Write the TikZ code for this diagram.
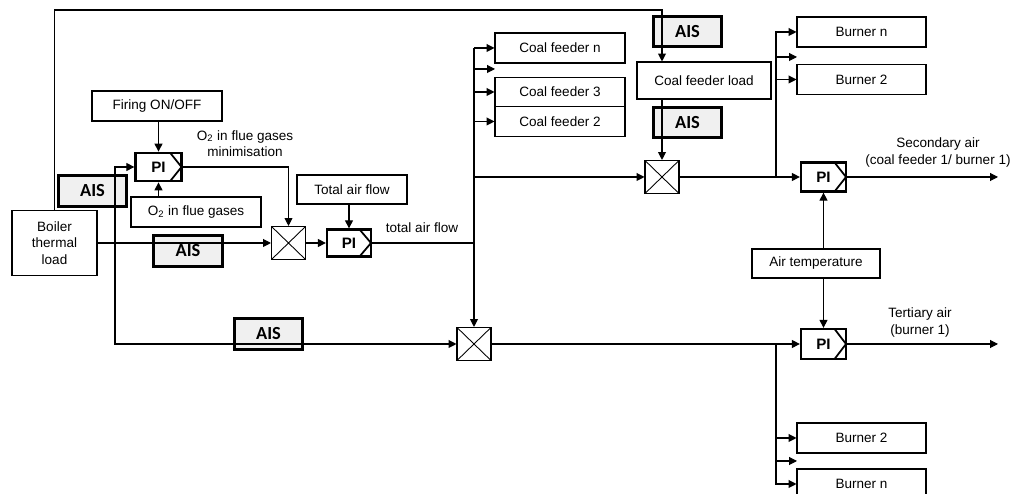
\documentclass[tikz,border=0pt]{standalone}
\usepackage{fontspec}
\setmainfont{Liberation Sans}
\newfontfamily\aisfont{Carlito}
\usetikzlibrary{arrows.meta}

\tikzset{
  box/.style={draw, inner sep=0pt, minimum width=2.6cm, minimum height=0.6cm, font=\fontsize{7.7}{9.4}\selectfont},
  ais/.style={draw, line width=1.5pt, fill=gray!12, inner sep=0pt, minimum width=1.37cm, minimum height=0.61cm, font=\aisfont\bfseries\fontsize{10.5}{12}\selectfont},
  pictrl/.style={draw, line width=1.3pt, inner sep=0pt, minimum width=0.92cm, minimum height=0.57cm, font=\bfseries\fontsize{8.6}{10}\selectfont,
    path picture={\draw[line width=1pt] ([xshift=-6.5pt]path picture bounding box.north east) -- (path picture bounding box.east) -- ([xshift=-6.5pt]path picture bounding box.south east);}},
  mult/.style={draw, inner sep=0pt, minimum width=0.68cm, minimum height=0.66cm,
    path picture={\draw[line width=0.5pt] (path picture bounding box.north west) -- (path picture bounding box.south east) (path picture bounding box.south west) -- (path picture bounding box.north east);}},
  lbl/.style={font=\fontsize{7.7}{9.4}\selectfont, align=center, inner sep=0pt},
}

\begin{document}
\begin{tikzpicture}[line width=0.6pt, >={Triangle[length=4.5pt,width=4.5pt]}]
\useasboundingbox (0,0) rectangle (20.2,9.88);
\clip (0,0) rectangle (20.2,9.88);
\node[ais] (aisA) at (1.85,6.06) {AIS};
\node[ais] (aisB) at (3.76,4.86) {AIS};
\node[ais] (aisC) at (5.37,3.20) {AIS};
\node[ais] (aisD) at (13.75,9.25) {AIS};
\node[ais] (aisE) at (13.75,7.43) {AIS};

\node[box, minimum width=1.7cm, minimum height=1.3cm, align=center] (boiler) at (1.09,5.02) {Boiler\\thermal\\load};
\node[box] (firing) at (3.14,7.76) {Firing ON/OFF};
\node[pictrl] (piA) at (3.17,6.54) {PI};
\node[box] (oxygen) at (3.92,5.64) {O\textsubscript{2} in flue gases};
\node[mult] (mulA) at (5.77,5.02) {};
\node[pictrl, minimum width=0.88cm, minimum height=0.54cm] (piB) at (6.98,5.02) {PI};
\node[box, minimum width=2.2cm, minimum height=0.58cm] (airflow) at (7.04,6.09) {Total air flow};
\node[lbl] (minim) at (4.9,7.01) {O\textsubscript{2} in flue gases\\minimisation};
\node[lbl] (totlbl) at (8.44,5.32) {total air flow};

\node[box] (feedN) at (11.2,8.92) {Coal feeder n};
\node[box, minimum height=0.59cm] (feed3) at (11.2,8.04) {Coal feeder 3};
\node[box, minimum height=0.59cm] (feed2) at (11.2,7.45) {Coal feeder 2};
\node[box, minimum width=2.68cm, minimum height=0.74cm] (feedload) at (14.08,8.27) {Coal feeder load};
\node[mult] (mulC) at (13.24,6.34) {};
\node[mult] (mulB) at (9.48,3.0) {};

\node[pictrl, minimum width=0.9cm, minimum height=0.58cm] (piC) at (16.47,6.34) {PI};
\node[pictrl, minimum width=0.9cm, minimum height=0.6cm] (piD) at (16.47,3.0) {PI};
\node[box, minimum width=2.56cm, minimum height=0.58cm] (airtemp) at (16.32,4.61) {Air temperature};
\node[box, minimum width=2.58cm] (burnNu) at (17.23,9.24) {Burner n};
\node[box, minimum width=2.58cm] (burn2u) at (17.23,8.29) {Burner 2};
\node[box, minimum width=2.58cm] (burn2l) at (17.23,1.12) {Burner 2};
\node[box, minimum width=2.58cm] (burnNl) at (17.23,0.2) {Burner n};
\node[lbl] (seclbl) at (18.76,6.83) {Secondary air\\(coal feeder 1/ burner 1)};
\node[lbl] (terlbl) at (18.4,3.43) {Tertiary air\\(burner 1)};

\coordinate (topbend) at (13.24,9.68);
\coordinate (aisfork) at (2.30,5.02);
\coordinate (feedfree) at (9.9,8.5);
\coordinate (busR) at (15.52,6.34);
\coordinate (busT) at (15.52,3.0);
\coordinate (burnfreeU) at (15.94,8.74);
\coordinate (burnfreeL) at (15.94,0.66);
\coordinate (secout) at (19.96,6.34);
\coordinate (terout) at (19.96,3.0);

\draw[->] (boiler.north) |- (topbend) -- (feedload.north -| mulC);
\draw[->] (feedload.south -| mulC) -- (mulC.north);
\draw[->] (boiler.east) -- (mulA.west);
\draw[->] (aisfork) |- (piA.west);
\draw[->] (aisfork) |- (mulB.west);
\draw[->] (firing.south -| piA) -- (piA.north);
\draw[->] (oxygen.north -| piA) -- (piA.south);
\draw[->] (piA.east) -| (mulA.north);
\draw[->] (mulA.east) -- (piB.west);
\draw[->] (airflow.south -| piB) -- (piB.north);
\draw (piB.east) -- (piB.east -| mulB);
\draw[->] (feedN.west -| mulB) -- (mulB.north);
\draw[->] (feedN.west -| mulB) -- (feedN.west);
\draw[->] (feedfree -| mulB) -- (feedfree);
\draw[->] (feed3.west -| mulB) -- (feed3.west);
\draw[->] (feed2.west -| mulB) -- (feed2.west);
\draw[->] (mulC.west -| mulB) -- (mulC.west);

\draw[->] (mulC.east) -- (piC.west);
\draw[->] (piC.east) -- (secout);
\draw[->] (busR) |- (burnNu.west);
\draw[->] (busR |- burn2u.west) -- (burn2u.west);
\draw[->] (busR |- burnfreeU) -- (burnfreeU);
\draw[->] (airtemp.north -| piC) -- (piC.south);
\draw[->] (airtemp.south -| piD) -- (piD.north);
\draw[->] (mulB.east) -- (piD.west);
\draw[->] (piD.east) -- (terout);
\draw[->] (busT) |- (burnNl.west);
\draw[->] (busT |- burn2l.west) -- (burn2l.west);
\draw[->] (busT |- burnfreeL) -- (burnfreeL);
\end{tikzpicture}
\end{document}
